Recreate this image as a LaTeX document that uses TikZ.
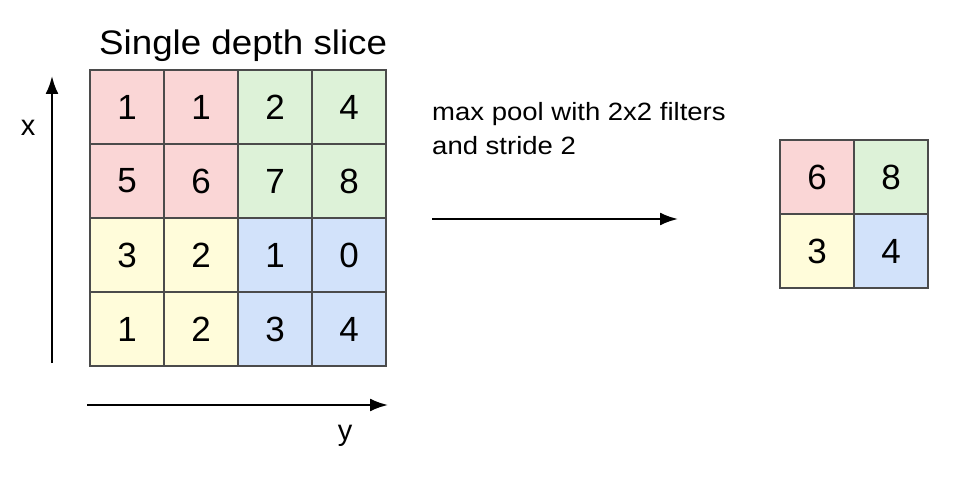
\documentclass[tikz,border=0pt]{standalone}
\usepackage{fontspec}
\setmainfont{Liberation Sans}
\usetikzlibrary{positioning,arrows.meta}

\definecolor{poolred}{RGB}{250,214,214}
\definecolor{poolgreen}{RGB}{221,242,216}
\definecolor{poolyellow}{RGB}{255,252,218}
\definecolor{poolblue}{RGB}{210,226,250}
\definecolor{cellline}{RGB}{75,75,75}

\begin{document}
\begin{tikzpicture}[x=1pt, y=-1pt, node distance={74pt},
	cell/.style = {draw=cellline, line width=1.3pt, minimum size=74pt, inner sep=0pt, font=\fontsize{35}{42}\selectfont},
	label/.style = {inner sep=0pt, anchor=base, font=\fontsize{29}{34}\selectfont},
	axis/.style = {line width=2.3pt, -{Latex[length=18pt,width=13pt]}}]
		\useasboundingbox (0,0) rectangle (980,478);
		% input slice
		\node[cell, fill=poolred] (11) at (127,107) {1};
		\node[cell, fill=poolred] (12) [right of=11] {1};
		\node[cell, fill=poolgreen] (13) [right of=12] {2};
		\node[cell, fill=poolgreen] (14) [right of=13] {4};
		\node[cell, fill=poolred] (21) [below of=11] {5};
		\node[cell, fill=poolred] (22) [right of=21] {6};
		\node[cell, fill=poolgreen] (23) [right of=22] {7};
		\node[cell, fill=poolgreen] (24) [right of=23] {8};
		\node[cell, fill=poolyellow] (31) [below of=21] {3};
		\node[cell, fill=poolyellow] (32) [right of=31] {2};
		\node[cell, fill=poolblue] (33) [right of=32] {1};
		\node[cell, fill=poolblue] (34) [right of=33] {0};
		\node[cell, fill=poolyellow] (41) [below of=31] {1};
		\node[cell, fill=poolyellow] (42) [right of=41] {2};
		\node[cell, fill=poolblue] (43) [right of=42] {3};
		\node[cell, fill=poolblue] (44) [right of=43] {4};
		% pooled output
		\node[cell, fill=poolred] (p11) at (817,177) {6};
		\node[cell, fill=poolgreen] (p12) [right of=p11] {8};
		\node[cell, fill=poolyellow] (p21) [below of=p11] {3};
		\node[cell, fill=poolblue] (p22) [right of=p21] {4};
		% texts
		\node[inner sep=0pt, anchor=base west, xscale=1.08, font=\fontsize{34}{40}\selectfont] (title) at (99,55) {Single depth slice};
		\node[inner sep=0pt, anchor=base west, xscale=1.1, align=left, font=\fontsize{25}{34}\selectfont] (pool) at (432,155) {max pool with 2x2 filters\\and stride 2};
		\node[label] (xlab) at (28,136) {x};
		\node[label] (ylab) at (345,440) {y};
		% axes and arrow
		\coordinate (xbot) at (52,363);
		\coordinate (xtop) at (52,76);
		\coordinate (ybeg) at (87,405);
		\coordinate (yend) at (388,405);
		\coordinate (pbeg) at (432,219);
		\coordinate (pend) at (678,219);
		\draw[axis] (xbot) -- (xtop);
		\draw[axis] (ybeg) -- (yend);
		\draw[axis] (pbeg) -- (pend);
	\end{tikzpicture}
\end{document}
